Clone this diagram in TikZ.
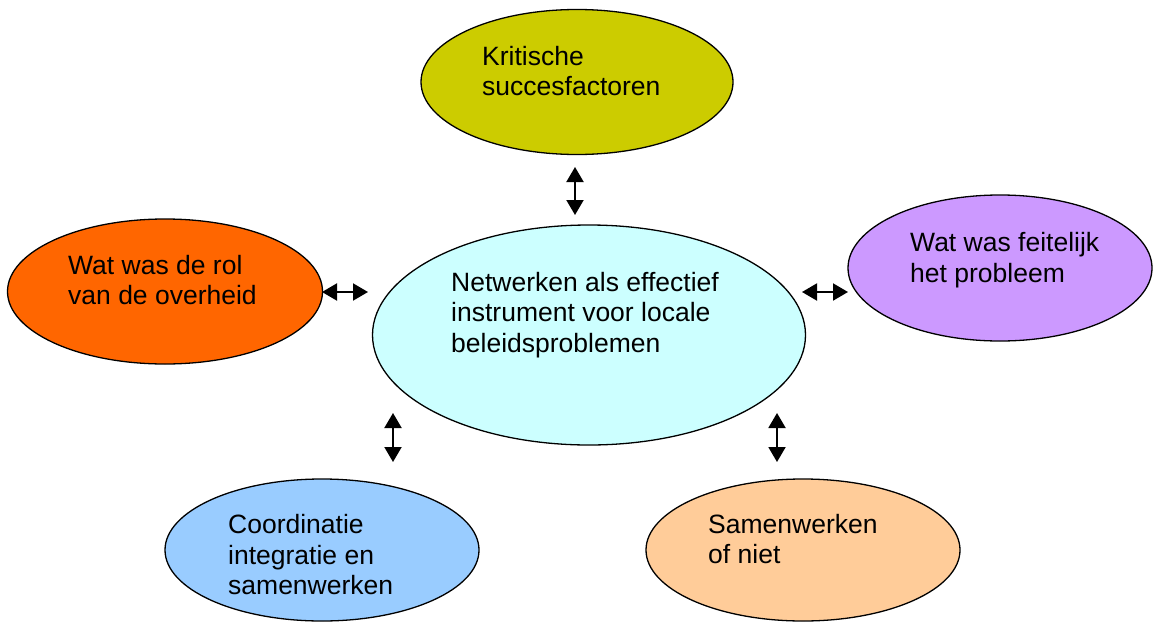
\documentclass[tikz,border=0pt]{standalone}
\usepackage{fontspec}
\setmainfont{Liberation Sans}
\usetikzlibrary{shapes.geometric,arrows.meta}
\definecolor{cTop}{HTML}{CCCC00}
\definecolor{cMid}{HTML}{CCFFFF}
\definecolor{cLeft}{HTML}{FF6600}
\definecolor{cRight}{HTML}{CC99FF}
\definecolor{cBL}{HTML}{99CCFF}
\definecolor{cBR}{HTML}{FFCC99}
\begin{document}
\begin{tikzpicture}[x=1pt,y=-1pt,
  oval/.style={ellipse,draw=black,line width=1.3pt,inner sep=0pt},
  lbl/.style={anchor=west,align=left,inner sep=0pt,font=\fontsize{26.5}{30.5}\selectfont},
  dbl/.style={line width=2pt,{Triangle[length=15pt,width=17pt]}-{Triangle[length=15pt,width=17pt]}}]
\useasboundingbox (0,0) rectangle (1155,621);
% ellipses
\node[oval,fill=cTop,minimum width=312pt,minimum height=145pt] (top) at (577,82) {};
\node[oval,fill=cMid,minimum width=433pt,minimum height=220pt] (mid) at (589,335) {};
\node[oval,fill=cLeft,minimum width=315pt,minimum height=145pt] (left) at (165,291.5) {};
\node[oval,fill=cRight,minimum width=304pt,minimum height=146pt] (right) at (1000,268) {};
\node[oval,fill=cBL,minimum width=314pt,minimum height=142pt] (bl) at (322,550) {};
\node[oval,fill=cBR,minimum width=314pt,minimum height=142pt] (br) at (803,550) {};
% texts
\node[lbl] (ttop) at (482,71) {Kritische\\succesfactoren};
\node[lbl] (tmid) at (451,315) {Netwerken als effectief\\instrument voor locale\\beleidsproblemen};
\node[lbl] (tleft) at (68,280) {Wat was de rol\\van de overheid};
\node[lbl] (tright) at (910,260) {Wat was feitelijk\\het probleem};
\node[lbl] (tbl) at (228,555) {Coordinatie\\integratie en\\samenwerken};
\node[lbl] (tbr) at (708,539) {Samenwerken\\of niet};
% arrow ends
\coordinate (a1) at (575,167); \coordinate (b1) at (575,215);
\coordinate (a2) at (322,292); \coordinate (b2) at (368,292);
\coordinate (a3) at (802,292); \coordinate (b3) at (848,292);
\coordinate (a4) at (393,413); \coordinate (b4) at (393,462);
\coordinate (a5) at (777,413); \coordinate (b5) at (777,462);
\draw[dbl] (a1) -- (b1);
\draw[dbl] (a2) -- (b2);
\draw[dbl] (a3) -- (b3);
\draw[dbl] (a4) -- (b4);
\draw[dbl] (a5) -- (b5);
\end{tikzpicture}
\end{document}
